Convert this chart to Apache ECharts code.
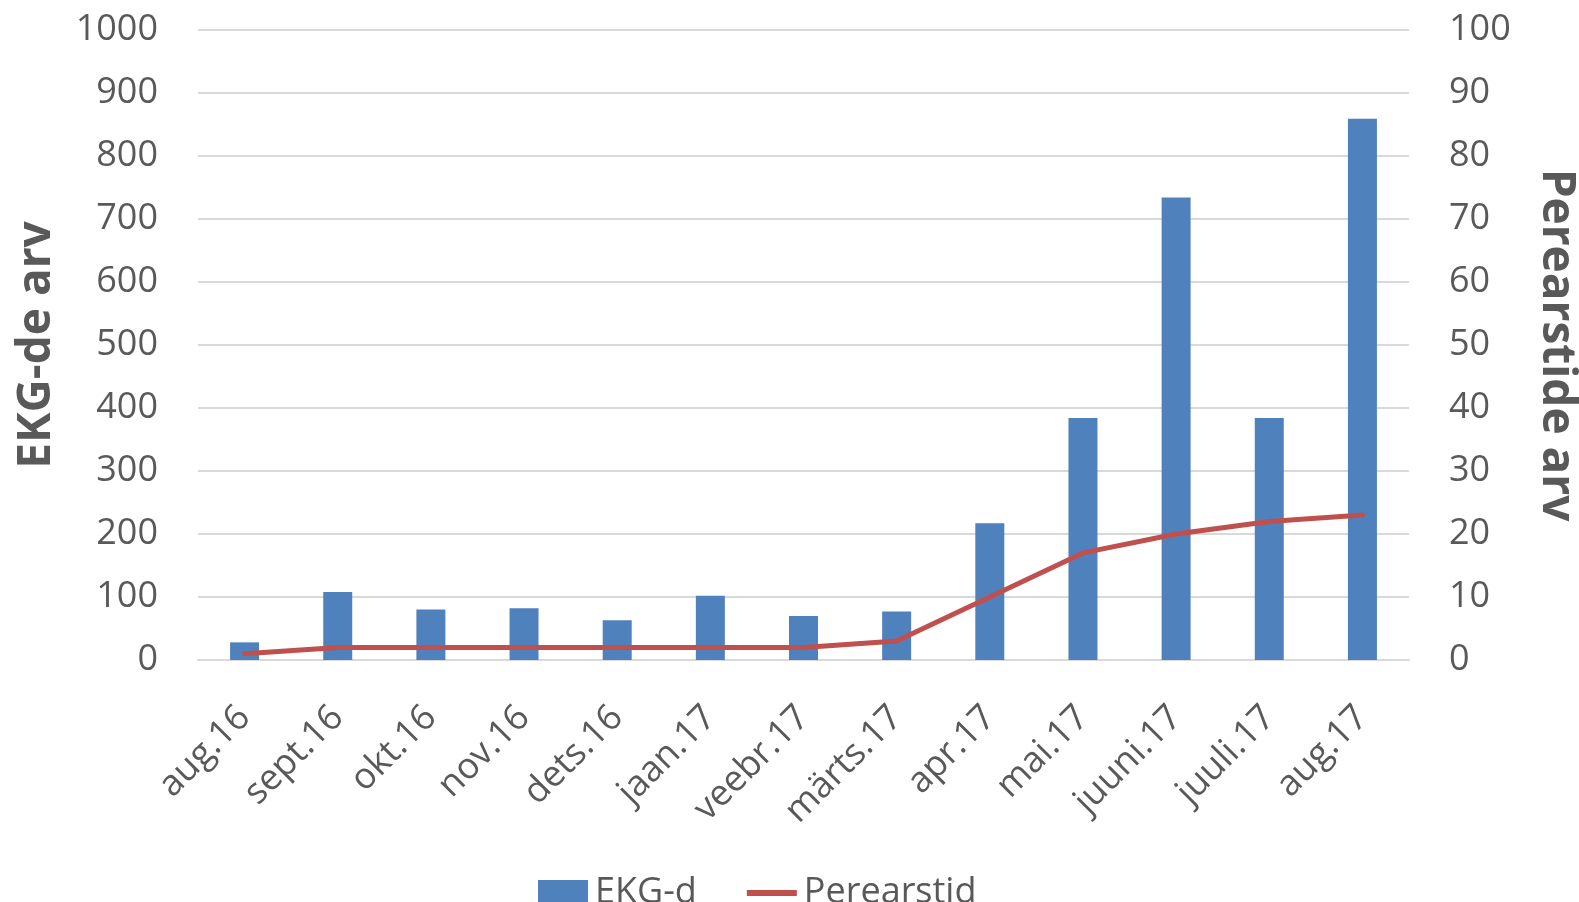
<!DOCTYPE html>
<html><head><meta charset="utf-8">
<script src="https://cdn.jsdelivr.net/npm/echarts@6/dist/echarts.min.js"></script>
<style>html,body{margin:0;padding:0;background:#fff;overflow:hidden}#c{width:1579px;height:902px}</style>
</head><body><div id="c"></div>
<script>
const categories = ['aug.16','sept.16','okt.16','nov.16','dets.16','jaan.17','veebr.17','märts.17','apr.17','mai.17','juuni.17','juuli.17','aug.17'];
const ekgValues = [28,108,80,82,63,102,70,77,217,384,734,384,859];
const perearstidValues = [1,2,2,2,2,2,2,3,10,17,20,22,23];
const leftTicks = [0,1000,100];
const rightTicks = [0,100,10];

const font = '"Open Sans", sans-serif';
const chart = echarts.init(document.getElementById('c'));
chart.setOption({
  animation: false,
  grid: {left: 198, right: 170, top: 30, bottom: 242, containLabel: false, outerBoundsMode: 'none'},
  legend: {
    bottom: -14, left: 533,
    itemWidth: 50, itemHeight: 26, itemGap: 50,
    textStyle: {fontFamily: font, fontSize: 36, color: '#595959', padding: [0,0,0,2]},
    data: [
      {name: 'EKG-d', icon: 'rect'},
      {name: 'Perearstid', icon: 'path://M0,0h50v6h-50z'}
    ]
  },
  xAxis: {
    type: 'category', data: categories,
    axisLine: {lineStyle: {color: '#d9d9d9', width: 2}},
    axisTick: {show: false},
    axisLabel: {rotate: 45, fontFamily: font, fontSize: 36, color: '#595959', margin: 52, interval: 0}
  },
  yAxis: [{
    type: 'value', min: leftTicks[0], max: leftTicks[1], interval: leftTicks[2],
    name: 'EKG-de arv', nameLocation: 'middle', nameGap: 138,
    nameTextStyle: {fontFamily: font, fontSize: 46, fontWeight: 'bold', color: '#595959'},
    axisLabel: {fontFamily: font, fontSize: 36, color: '#595959', margin: 40, formatter: v => String(v)},
    splitLine: {lineStyle: {color: '#d9d9d9', width: 2}},
    axisLine: {show: false}, axisTick: {show: false}
  },{
    type: 'value', min: rightTicks[0], max: rightTicks[1], interval: rightTicks[2],
    name: 'Perearstide arv', nameLocation: 'middle', nameGap: 124, nameRotate: -90,
    nameTextStyle: {fontFamily: font, fontSize: 46, fontWeight: 'bold', color: '#595959'},
    axisLabel: {fontFamily: font, fontSize: 36, color: '#595959', margin: 40, formatter: v => String(v)},
    splitLine: {show: false},
    axisLine: {show: false}, axisTick: {show: false}
  }],
  series: [{
    name: 'EKG-d', type: 'bar', data: ekgValues, barWidth: 29,
    itemStyle: {color: '#4f81bd'}
  },{
    name: 'Perearstid', type: 'line', yAxisIndex: 1, data: perearstidValues,
    symbol: 'none', lineStyle: {color: '#c0504d', width: 5, cap: 'round'},
    itemStyle: {color: '#c0504d'}
  }]
});
</script></body></html>
